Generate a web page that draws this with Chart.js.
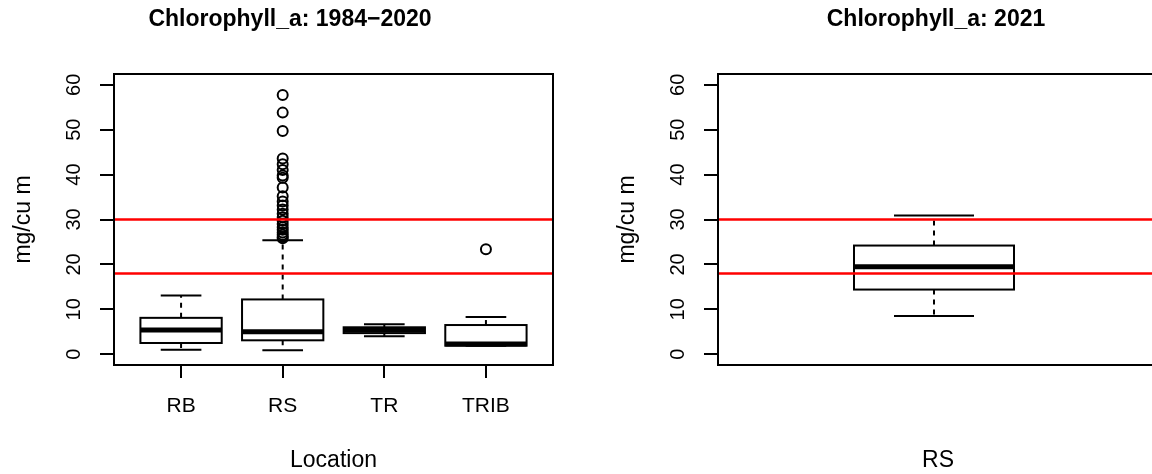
<!DOCTYPE html>
<html>
<head>
<meta charset="utf-8">
<script src="https://cdn.jsdelivr.net/npm/chart.js@4.4.1/dist/chart.umd.min.js"></script>
<style>
  html, body { margin: 0; padding: 0; background: #fff; overflow: hidden; }
  #wrap { position: relative; width: 1152px; height: 474px; overflow: hidden; background: #fff; }
  #left { position: absolute; left: 0; top: 0; }
  #right { position: absolute; left: 576px; top: 0; }
</style>
</head>
<body>
<div id="wrap">
  <canvas id="left" width="560" height="474" style="width:560px;height:474px"></canvas>
  <canvas id="right" width="584" height="474" style="width:584px;height:474px"></canvas>
</div>
<script>
// Chlorophyll a (mg/cu m), 1984–2020, summarised by sampling location
const locations = ['RB', 'RS', 'TR', 'TRIB'];
const lowerWhisker = [1.0, 0.9, 4.0, 1.9];
const lowerQuartile = [2.5, 3.1, 4.7, 1.9];
const medians = [5.4, 5.0, 5.4, 2.3];
const upperQuartile = [8.1, 12.2, 6.0, 6.5];
const upperWhisker = [13.1, 25.4, 6.7, 8.3];
const outliersRS = [57.7, 53.8, 49.7, 43.6, 42.3, 41.0, 39.8, 39.3, 37.1, 35.2, 34.0,
                    33.1, 32.2, 31.3, 30.5, 29.7, 29.0, 28.3, 27.7, 27.1, 26.6, 26.1, 25.8];
const outliersTRIB = [23.4];

// 2021 season, RS only
const locations2021 = ['RS'];
const lowerWhisker2021 = [8.5];
const lowerQuartile2021 = [14.4];
const medians2021 = [19.5];
const upperQuartile2021 = [24.2];
const upperWhisker2021 = [30.9];

// Axis ticks and the two reference levels
const yTickValues = [0, 10, 20, 30, 40, 50, 60];
const thresholds = [18, 30];

const FONT = '"Liberation Sans", Arial, Helvetica, sans-serif';

// Box-and-whisker drawing done through the chart's own x/y scales
const boxPlotPlugin = {
  id: 'boxPlot',
  beforeDatasetsDraw(chart, args, opts) {
    const { ctx, scales: { x, y } } = chart;
    const s = opts.stats;
    ctx.save();
    ctx.strokeStyle = '#000';
    s.median.forEach((med, i) => {
      const pos = i + 1;
      const cx = x.getPixelForValue(pos);
      const bL = x.getPixelForValue(pos - opts.boxWidth / 2);
      const bR = x.getPixelForValue(pos + opts.boxWidth / 2);
      const cL = x.getPixelForValue(pos - opts.capWidth / 2);
      const cR = x.getPixelForValue(pos + opts.capWidth / 2);
      const yLo = y.getPixelForValue(s.lo[i]);
      const yQ1 = y.getPixelForValue(s.q1[i]);
      const yMed = y.getPixelForValue(med);
      const yQ3 = y.getPixelForValue(s.q3[i]);
      const yHi = y.getPixelForValue(s.hi[i]);

      // dashed whiskers
      ctx.lineWidth = 2;
      ctx.setLineDash([5, 5]);
      ctx.beginPath();
      ctx.moveTo(cx, yQ3); ctx.lineTo(cx, yHi);
      ctx.moveTo(cx, yQ1); ctx.lineTo(cx, yLo);
      ctx.stroke();

      // whisker caps
      ctx.setLineDash([]);
      ctx.beginPath();
      ctx.moveTo(cL, yHi); ctx.lineTo(cR, yHi);
      ctx.moveTo(cL, yLo); ctx.lineTo(cR, yLo);
      ctx.stroke();

      // box
      ctx.lineWidth = 2;
      ctx.strokeRect(bL, yQ3, bR - bL, yQ1 - yQ3);

      // median
      ctx.lineWidth = 5;
      ctx.lineCap = 'butt';
      ctx.beginPath();
      ctx.moveTo(bL, yMed); ctx.lineTo(bR, yMed);
      ctx.stroke();
    });
    ctx.restore();
  },
  afterDatasetsDraw(chart, args, opts) {
    const { ctx, chartArea: a, scales: { y } } = chart;
    ctx.save();
    // reference levels
    ctx.strokeStyle = '#ff0000';
    ctx.lineWidth = 2.5;
    thresholds.forEach(t => {
      const py = y.getPixelForValue(t);
      ctx.beginPath();
      ctx.moveTo(a.left, py); ctx.lineTo(a.right, py);
      ctx.stroke();
    });
    // plot frame
    ctx.strokeStyle = '#000';
    ctx.lineWidth = 2;
    ctx.strokeRect(a.left, a.top, a.right - a.left, a.bottom - a.top);
    ctx.restore();
  },
  afterDraw(chart, args, opts) {
    const { ctx } = chart;
    ctx.save();
    ctx.fillStyle = '#000';
    ctx.font = 'bold 23px ' + FONT;
    ctx.textAlign = 'center';
    ctx.textBaseline = 'middle';
    ctx.fillText(opts.title, opts.titleX, opts.titleY);
    ctx.restore();
  }
};

function yScale() {
  return {
    type: 'linear',
    min: -2.4,
    max: 62.4,
    afterBuildTicks: s => { s.ticks = yTickValues.map(v => ({ value: v })); },
    afterFit: s => { s.width = 114; },
    border: { display: false },
    grid: { drawOnChartArea: false, drawTicks: true, tickLength: 14, color: '#000', lineWidth: 2 },
    ticks: {
      color: '#000', font: { family: FONT, size: 20 },
      minRotation: 90, maxRotation: 90, crossAlign: 'center', padding: 14
    },
    title: {
      display: true, text: 'mg/cu m', color: '#000',
      font: { family: FONT, size: 23 }, padding: { top: 10, bottom: 0 }
    }
  };
}

// 1984–2020 panel
new Chart(document.getElementById('left'), {
  type: 'scatter',
  data: {
    datasets: [{
      data: [
        ...outliersRS.map(v => ({ x: locations.indexOf('RS') + 1, y: v })),
        ...outliersTRIB.map(v => ({ x: locations.indexOf('TRIB') + 1, y: v }))
      ],
      pointStyle: 'circle',
      pointRadius: 5,
      pointBorderWidth: 2,
      pointBorderColor: '#000',
      pointBackgroundColor: 'rgba(0,0,0,0)'
    }]
  },
  options: {
    responsive: false,
    animation: false,
    layout: { padding: { top: 74, left: 0, right: 6, bottom: 0 } },
    plugins: {
      legend: { display: false },
      tooltip: { enabled: false },
      boxPlot: {
        stats: { lo: lowerWhisker, q1: lowerQuartile, median: medians, q3: upperQuartile, hi: upperWhisker },
        boxWidth: 0.8, capWidth: 0.4,
        title: 'Chlorophyll_a: 1984\u22122020', titleX: 290, titleY: 20
      }
    },
    scales: {
      x: {
        type: 'linear',
        min: 0.34,
        max: 4.66,
        afterBuildTicks: s => { s.ticks = locations.map((_, i) => ({ value: i + 1 })); },
        afterFit: s => { s.height = 109; },
        border: { display: false },
        grid: { drawOnChartArea: false, drawTicks: true, tickLength: 13, color: '#000', lineWidth: 2 },
        ticks: {
          color: '#000', font: { family: FONT, size: 21 }, padding: 16,
          maxRotation: 0, autoSkip: false,
          callback: v => locations[v - 1]
        },
        title: {
          display: true, text: 'Location', color: '#000',
          font: { family: FONT, size: 23 }, padding: { top: 0, bottom: 0 }
        }
      },
      y: yScale()
    }
  },
  plugins: [boxPlotPlugin]
});

// 2021 panel
new Chart(document.getElementById('right'), {
  type: 'scatter',
  data: { datasets: [] },
  options: {
    responsive: false,
    animation: false,
    layout: { padding: { top: 74, left: 28, right: 2, bottom: 0 } },
    plugins: {
      legend: { display: false },
      tooltip: { enabled: false },
      boxPlot: {
        stats: { lo: lowerWhisker2021, q1: lowerQuartile2021, median: medians2021, q3: upperQuartile2021, hi: upperWhisker2021 },
        boxWidth: 0.4, capWidth: 0.2,
        title: 'Chlorophyll_a: 2021', titleX: 360, titleY: 20
      }
    },
    scales: {
      x: {
        type: 'linear',
        min: 0.46,
        max: 1.56,
        afterFit: s => { s.height = 109; },
        border: { display: false },
        grid: { display: false },
        ticks: { display: false },
        title: {
          display: true, text: locations2021[0], color: '#000',
          font: { family: FONT, size: 23 }, padding: { top: 0, bottom: 0 }
        }
      },
      y: yScale()
    }
  },
  plugins: [boxPlotPlugin]
});
</script>
</body>
</html>
